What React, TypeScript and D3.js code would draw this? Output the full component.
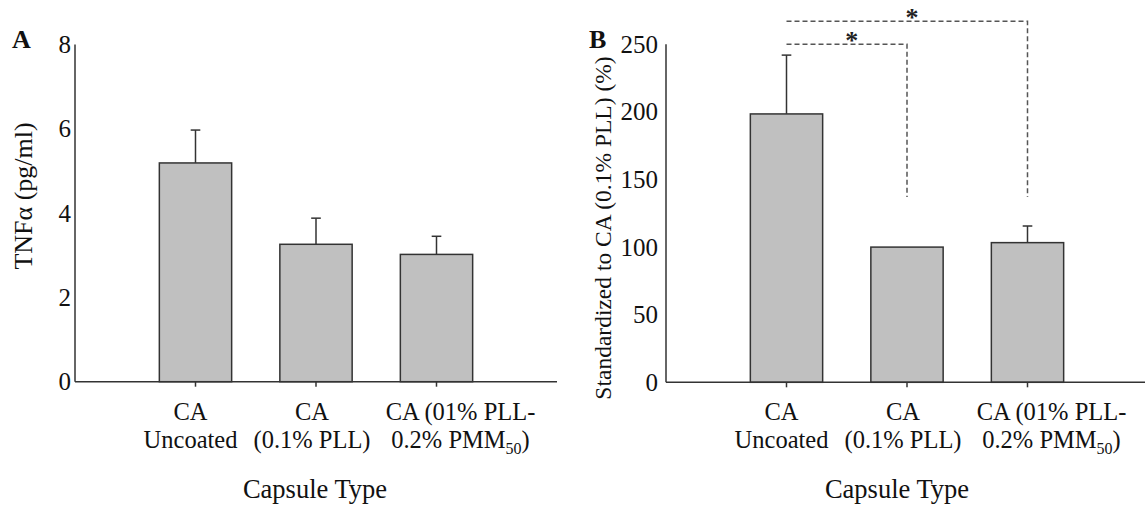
import React from "react";
import * as d3 from "d3";

// category labels (two lines each), third one has a subscript
const catLine1 = ["CA", "CA", "CA (01% PLL-"];
const catLine2 = ["Uncoated", "(0.1% PLL)", "0.2% PMM"];
const catSub = ["", "", "50"];
const catSuffix = ["", "", ")"];
const catPos = [1, 2, 3];

// panel A: TNFa (pg/ml)
const tnfMean = [5.19, 3.26, 3.02];
const tnfErr = [0.78, 0.62, 0.43];
const tnfTicks = [0, 2, 4, 6, 8];

// panel B: standardized to CA (0.1% PLL) (%)
const stdMean = [198.5, 100, 103.3];
const stdErr = [43.5, 0, 12.3];
const stdTicks = [0, 50, 100, 150, 200, 250];

// significance brackets on panel B (category index, level, drop-to)
const sigFrom = [0, 0];
const sigTo = [1, 2];
const sigLevel = [250, 267];
const sigDrop = [137, 137];

const FONT = "'Liberation Serif', 'Times New Roman', serif";
const INK = "#333";

type PanelProps = {
  letter: string;
  x0: number;
  yDomainMax: number;
  yTop: number;
  yBottom: number;
  ticks: number[];
  means: number[];
  errs: number[];
  yLabel: string;
  yLabelX: number;
  yLabelY: number;
  yLabelSize: number;
  tickGap: number;
  letterX: number;
  titleX: number;
  children?: (x: d3.ScaleLinear<number, number>, y: d3.ScaleLinear<number, number>) => React.ReactNode;
};

function Panel(p: PanelProps) {
  const x = d3.scaleLinear().domain([0, 4]).range([p.x0, p.x0 + 482]);
  const y = d3.scaleLinear().domain([0, p.yDomainMax]).range([p.yBottom, p.yTop]);
  const barW = x(0.6) - x(0);
  const capW = x(0.04) - x(0);
  const labelOffset = [-5, -4, 24];

  return (
    <g>
      <text x={p.letterX} y={48} fontFamily={FONT} fontWeight="bold" fontSize={26} fill="#111">
        {p.letter}
      </text>

      {/* bars + error bars */}
      {p.means.map((m, i) => (
        <g key={i}>
          {p.errs[i] > 0 && (
            <g stroke={INK} strokeWidth={1.5}>
              <line x1={x(catPos[i])} x2={x(catPos[i])} y1={y(m)} y2={y(m + p.errs[i])} />
              <line
                x1={x(catPos[i]) - capW}
                x2={x(catPos[i]) + capW}
                y1={y(m + p.errs[i])}
                y2={y(m + p.errs[i])}
              />
            </g>
          )}
          <rect
            x={x(catPos[i]) - barW / 2}
            y={y(m)}
            width={barW}
            height={y(0) - y(m)}
            fill="#c0c0c0"
            stroke={INK}
            strokeWidth={1.5}
          />
        </g>
      ))}

      {/* axes */}
      <line x1={x(0)} x2={x(0)} y1={y(0)} y2={y(p.yDomainMax)} stroke={INK} strokeWidth={1.5} />
      <line x1={x(0)} x2={x(4)} y1={y(0)} y2={y(0)} stroke={INK} strokeWidth={1.5} />
      {catPos.map((c) => (
        <line key={c} x1={x(c)} x2={x(c)} y1={y(0)} y2={y(0) + 5} stroke={INK} strokeWidth={1.5} />
      ))}
      {p.ticks.map((t) => (
        <text
          key={t}
          x={x(0) - p.tickGap}
          y={y(t)}
          dy="0.34em"
          textAnchor="end"
          fontFamily={FONT}
          fontSize={25}
          fill="#111"
        >
          {t}
        </text>
      ))}

      {/* category labels */}
      {catPos.map((c, i) => (
        <g key={c} fontFamily={FONT} fontSize={24.5} fill="#111" textAnchor="middle">
          <text x={x(c) + labelOffset[i]} y={420}>
            {catLine1[i]}
          </text>
          <text x={x(c) + labelOffset[i]} y={448}>
            {catLine2[i]}
            {catSub[i] && (
              <tspan fontSize={16} dy={6}>
                {catSub[i]}
              </tspan>
            )}
            {catSuffix[i] && <tspan dy={-6}>{catSuffix[i]}</tspan>}
          </text>
        </g>
      ))}

      <text x={p.titleX} y={498} textAnchor="middle" fontFamily={FONT} fontSize={26.5} fill="#111">
        Capsule Type
      </text>

      <text
        transform={`translate(${p.yLabelX},${p.yLabelY}) rotate(-90)`}
        textAnchor="middle"
        fontFamily={FONT}
        fontSize={p.yLabelSize}
        fill="#111"
      >
        {p.yLabel}
      </text>

      {p.children && p.children(x, y)}
    </g>
  );
}

export default function App() {
  return (
    <svg
      width={1145}
      height={510}
      style={{ position: "absolute", left: 0, top: 0, background: "#fff" }}
    >
      <Panel
        letter="A"
        x0={75}
        yDomainMax={8}
        yTop={44.5}
        yBottom={381.7}
        ticks={tnfTicks}
        means={tnfMean}
        errs={tnfErr}
        yLabel="TNFα (pg/ml)"
        yLabelX={32}
        yLabelY={196}
        yLabelSize={26}
        tickGap={4}
        letterX={12}
        titleX={315}
      />
      <Panel
        letter="B"
        x0={666}
        yDomainMax={250}
        yTop={44.3}
        yBottom={382.3}
        ticks={stdTicks}
        means={stdMean}
        errs={stdErr}
        yLabel="Standardized to CA (0.1% PLL) (%)"
        yLabelX={611}
        yLabelY={228}
        yLabelSize={23.5}
        tickGap={8}
        letterX={589}
        titleX={897}
      >
        {(x, y) =>
          sigFrom.map((f, i) => {
            const xa = x(catPos[f]);
            const xb = x(catPos[sigTo[i]]);
            const yl = y(sigLevel[i]);
            return (
              <g key={i}>
                <path
                  d={`M${xa},${yl}H${xb}V${y(sigDrop[i])}`}
                  fill="none"
                  stroke="#555"
                  strokeWidth={1.5}
                  strokeDasharray="5,3"
                />
                <text
                  x={(xa + xb) / 2 + 5}
                  y={yl + 5}
                  textAnchor="middle"
                  fontFamily={FONT}
                  fontSize={26}
                  fontWeight="bold"
                  fill="#222"
                >
                  *
                </text>
              </g>
            );
          })
        }
      </Panel>
    </svg>
  );
}
